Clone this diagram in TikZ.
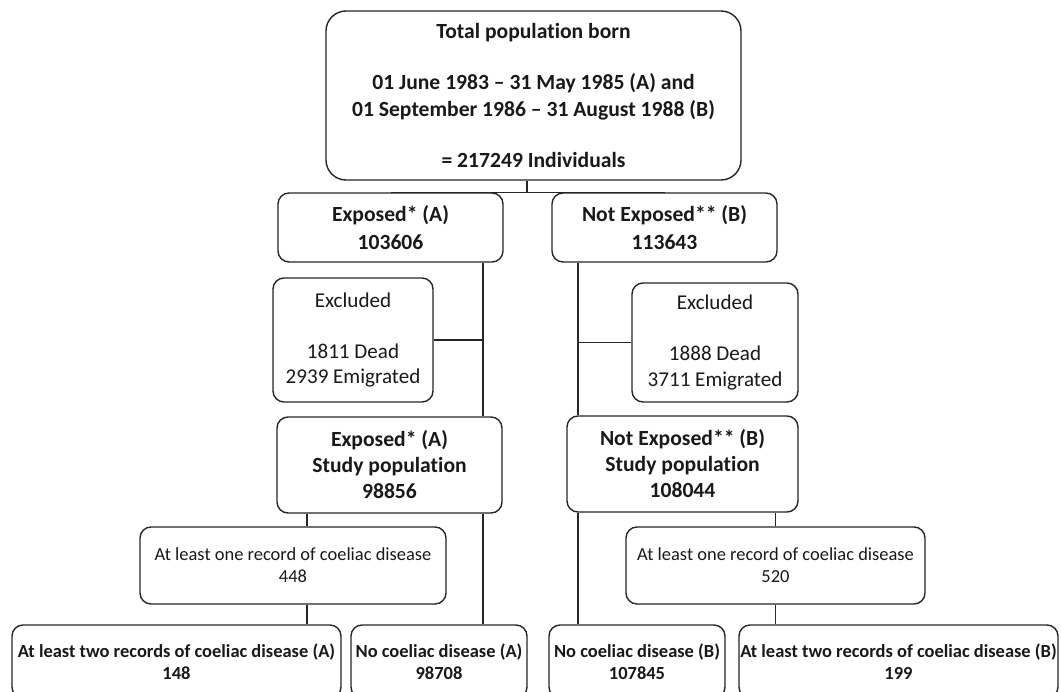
\documentclass[tikz,border=0pt]{standalone}
\usepackage{fontspec}
\setmainfont[Ligatures={NoCommon,NoContextual,NoRare,NoRequired},Contextuals=NoAlternate]{Carlito}
\tikzset{>=latex}
\colorlet{boxcol}{black!85}
\colorlet{txtcol}{black!90}
\tikzstyle{mainbox}=[draw=boxcol,line width=0.8pt,fill=white,text=txtcol,rounded corners=0.22cm,
  align=center,inner sep=0pt,font=\bfseries\fontsize{12.3}{14.8}\selectfont]
\tikzstyle{exclbox}=[mainbox,font=\fontsize{12}{14.5}\selectfont]
\tikzstyle{recbox}=[mainbox,font=\fontsize{10.5}{12.5}\selectfont]
\tikzstyle{endbox}=[mainbox,font=\bfseries\fontsize{10.5}{12.5}\selectfont]
\tikzstyle{link}=[boxcol,line width=0.8pt]
\tikzset{wh/.style 2 args={minimum width=#1*0.02cm,minimum height=#2*0.02cm}}

\begin{document}
\begin{tikzpicture}[x=0.02cm,y=-0.02cm]
  \useasboundingbox (0,0) rectangle (1061,692);
  \clip (0,0) rectangle (1061,692);

  % BOXES
  \node[mainbox,rounded corners=0.4cm,wh={415}{169}] (total) at (533.5,95.5)
    {Total population born\\[14.5pt]01 June 1983 -- 31 May 1985 (A) and\\
     01 September 1986 -- 31 August 1988 (B)\\[14.5pt]= 217249 Individuals};
  \node[mainbox,wh={225}{69}] (expA) at (390.5,227.5) {Exposed* (A)\\[1pt]103606};
  \node[mainbox,wh={225}{69}] (expB) at (664.5,227.5) {Not Exposed** (B)\\[1pt]113643};
  \node[exclbox,wh={160}{124}] (exclA) at (353,340) {Excluded\\[14.5pt]1811 Dead\\2939 Emigrated};
  \node[exclbox,wh={166}{119}] (exclB) at (715,342.5) {Excluded\\[14.5pt]1888 Dead\\3711 Emigrated};
  \node[mainbox,wh={225}{96}] (studyA) at (389.5,465) {Exposed* (A)\\Study population\\98856};
  \node[mainbox,wh={231}{96}] (studyB) at (682.5,464) {Not Exposed** (B)\\Study population\\108044};
  \node[recbox,wh={306}{77}] (oneA) at (293,565.5) {At least one record of coeliac disease\\448};
  \node[recbox,wh={299}{77}] (oneB) at (775.5,565.5) {At least one record of coeliac disease\\520};
  \node[endbox,wh={329}{73}] (twoA) at (176.5,661.5) {At least two records of coeliac disease (A)\\148};
  \node[endbox,wh={176}{73}] (noA) at (439,661.5) {No coeliac disease (A)\\98708};
  \node[endbox,wh={176}{73}] (noB) at (637,661.5) {No coeliac disease (B)\\107845};
  \node[endbox,wh={319}{73}] (twoB) at (898.5,661.5) {At least two records of coeliac disease (B)\\199};

  % TRUNKS
  \coordinate (stem) at (527,0);
  \coordinate (trunkA) at (483,0);
  \coordinate (trunkB) at (578,0);
  \coordinate (branchA) at (307,0);

  % LINKS
  \draw[link] (stem |- total.south) -- (stem |- expA.north);
  \draw[link] (expA.north) -- (expB.north);
  \draw[link] (trunkA |- expA.south) -- (trunkA |- studyA.north);
  \draw[link] (trunkB |- expB.south) -- (trunkB |- studyB.north);
  \draw[link] (exclA.east) -- (exclA.east -| trunkA);
  \draw[link] (exclB.west) -- (exclB.west -| trunkB);
  \draw[link] (trunkA |- studyA.south) -- (trunkA |- noA.north);
  \draw[link] (trunkB |- studyB.south) -- (trunkB |- noB.north);
  \draw[link] (branchA |- studyA.south) -- (branchA |- oneA.north);
  \draw[link] (branchA |- oneA.south) -- (branchA |- twoA.north);
  \draw[link] (oneB.north) -- (oneB.north |- studyB.south);
  \draw[link] (oneB.south) -- (oneB.south |- twoB.north);

\end{tikzpicture}
\end{document}
